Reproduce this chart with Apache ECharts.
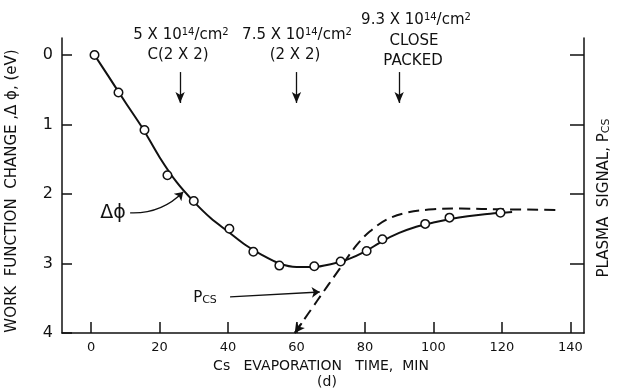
<!DOCTYPE html>
<html>
<head>
<meta charset="utf-8">
<script src="https://cdn.jsdelivr.net/npm/echarts@6/dist/echarts.min.js"></script>
<style>html,body{margin:0;padding:0;background:#fff;}#c{width:618px;height:389px;}</style>
</head>
<body>
<div id="c"></div>
<script>
// ---- data ----
const xTicks = [0, 20, 40, 60, 80, 100, 120, 140];
const yTicks = [0, 1, 2, 3, 4];
const rightTicks = [0, 1, 2, 3];

// measured work-function points (open circles)
const pointX = [1, 8, 15.6, 22.3, 30, 40.4, 47.4, 55, 65.2, 72.9, 80.5, 85.1, 97.6, 104.7, 119.6];
const pointY = [0, 0.54, 1.08, 1.73, 2.10, 2.50, 2.83, 3.03, 3.04, 2.97, 2.82, 2.65, 2.43, 2.34, 2.27];

// smooth fitted curve (solid)
const curveX = [1, 5, 10, 15, 20, 25, 30, 35, 40, 45, 50, 55, 60, 65, 70, 75, 80, 85, 90, 95, 100, 105, 110, 115, 120, 123];
const curveY = [0, 0.30, 0.68, 1.05, 1.47, 1.83, 2.11, 2.35, 2.54, 2.73, 2.88, 3.00, 3.05, 3.05, 3.01, 2.94, 2.83, 2.68, 2.56, 2.47, 2.41, 2.36, 2.32, 2.29, 2.27, 2.26];

// plasma signal P_Cs (dashed)
const pcsX = [59.5, 66, 72.7, 77.5, 81.4, 86.3, 92, 100, 108, 120, 137];
const pcsY = [4.0, 3.54, 3.07, 2.74, 2.54, 2.37, 2.27, 2.22, 2.21, 2.22, 2.23];

// coverage markers (vertical arrows)
const markerX = [26, 60, 90];

const zip = (a, b) => a.map((v, i) => [v, b[i]]);
const FONT = 'DejaVu Sans';
const BLACK = '#111';

const chart = echarts.init(document.getElementById('c'), null, {renderer: 'canvas'});

const axisCommon = {
  type: 'value',
  splitLine: {show: false},
  axisLine: {show: true, onZero: false, lineStyle: {color: BLACK, width: 1.5}},
};

const option = {
  animation: false,
  backgroundColor: '#fff',
  grid: {left: 62, right: 34, top: 38, bottom: 56, containLabel: false, outerBoundsMode: 'none'},
  xAxis: Object.assign({}, axisCommon, {
    min: -8.5, max: 144,
    axisTick: {show: true, inside: true, length: 11, customValues: xTicks, lineStyle: {color: BLACK, width: 1.5}},
    axisLabel: {show: true, customValues: xTicks, color: BLACK, fontFamily: FONT, fontSize: 13, margin: 8}
  }),
  yAxis: [
    Object.assign({}, axisCommon, {
      position: 'left', inverse: true, min: -0.245, max: 4,
      axisTick: {show: true, inside: true, length: 10, customValues: yTicks, lineStyle: {color: BLACK, width: 1.5}},
      axisLabel: {show: true, customValues: yTicks, color: BLACK, fontFamily: FONT, fontSize: 16, margin: 9}
    }),
    Object.assign({}, axisCommon, {
      position: 'right', inverse: true, min: -0.245, max: 4,
      axisTick: {show: true, inside: true, length: 14, customValues: rightTicks, lineStyle: {color: BLACK, width: 1.5}},
      axisLabel: {show: false}
    })
  ],
  series: [
    {
      type: 'line', name: 'fit', data: zip(curveX, curveY), smooth: 0.3,
      symbol: 'none', lineStyle: {color: BLACK, width: 2}, z: 2,
      markLine: {
        silent: true, symbol: ['none', 'arrow'], symbolSize: [7, 11],
        label: {show: false}, lineStyle: {color: BLACK, width: 1.3, type: 'solid'},
        data: markerX.map(x => [{coord: [x, 0.245]}, {coord: [x, 0.69]}])
      }
    },
    {
      type: 'line', name: 'Pcs', data: zip(pcsX, pcsY), smooth: 0.35,
      symbol: 'none', lineStyle: {color: BLACK, width: 2, type: [11, 6]}, z: 2,
      markLine: {
        silent: true, symbol: ['none', 'arrow'], symbolSize: [8, 10],
        label: {show: false}, lineStyle: {color: BLACK, width: 2, type: 'solid'},
        data: [[{coord: [61.5, 3.86]}, {coord: [59.5, 4.0]}]]
      }
    },
    {
      type: 'scatter', name: 'points', data: zip(pointX, pointY),
      symbol: 'circle', symbolSize: 8.5,
      itemStyle: {color: '#fff', borderColor: BLACK, borderWidth: 1.5, opacity: 1}, z: 5
    },
    {
      type: 'lines', coordinateSystem: 'cartesian2d', silent: true,
      symbol: ['none', 'arrow'], symbolSize: 8,
      lineStyle: {color: BLACK, width: 1.3, opacity: 1},
      data: [
        {coords: [[11.4, 2.27], [26.9, 1.97]], lineStyle: {curveness: -0.22}},
        {coords: [[40.6, 3.48], [66.8, 3.41]], lineStyle: {curveness: 0}}
      ],
      z: 3
    }
  ],
  graphic: []
};

const sup = {fontSize: 10, fontFamily: FONT, verticalAlign: 'top', fill: BLACK, color: BLACK};
function txt(x, y, text, size, extra) {
  return Object.assign({
    type: 'text', x: x, y: y, silent: true,
    style: {
      text: text, fontFamily: FONT, fontSize: size, fill: BLACK,
      align: 'center', verticalAlign: 'middle',
      rich: {s: sup, b: {fontSize: size, fontFamily: FONT, fill: BLACK}, sub: {fontSize: 11, fontFamily: FONT, verticalAlign: 'bottom', fill: BLACK}}
    }
  }, extra || {});
}

option.graphic = [
  txt(181, 35, '5 X 10{s|14}/cm{s|2}', 15),
  txt(178, 55, 'C(2 X 2)', 15),
  txt(297, 35, '7.5 X 10{s|14}/cm{s|2}', 15),
  txt(295, 55, '(2 X 2)', 15),
  txt(416, 20, '9.3 X 10{s|14}/cm{s|2}', 15),
  txt(414, 41, 'CLOSE', 15),
  txt(413, 61, 'PACKED', 15),
  txt(113, 213, 'Δϕ', 19),
  txt(205, 298, 'P{sub|CS}', 15),
  txt(321, 366, 'Cs   EVAPORATION   TIME,  MIN', 14),
  txt(327, 382, '(d)', 14),
  txt(12, 191, 'WORK  FUNCTION  CHANGE ,Δ ϕ, (eV)', 15, {rotation: Math.PI / 2}),
  txt(604, 198, 'PLASMA  SIGNAL, P{sub|CS}', 15, {rotation: Math.PI / 2})
];

chart.setOption(option);
</script>
</body>
</html>
